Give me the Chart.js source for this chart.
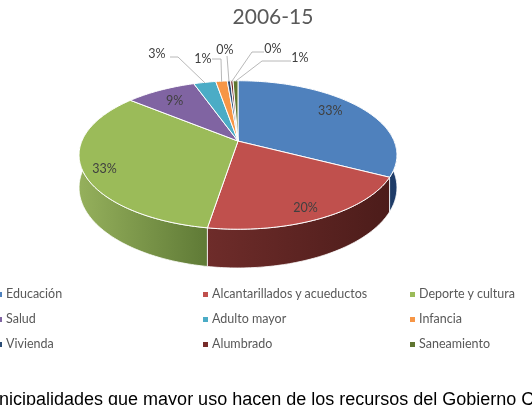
<!DOCTYPE html>
<html lang="es">
<head>
<meta charset="utf-8">
<title>2006-15</title>
<script src="https://cdn.jsdelivr.net/npm/chart.js@4"></script>
<style>
    html, body { margin: 0; padding: 0; background: #fff; }
    #page { position: relative; width: 532px; height: 405px; overflow: hidden; }
    #pie { position: absolute; left: -10px; top: 0; }
    .legend-item { position: absolute; font: 12.5px Lato, sans-serif; color: #595959; line-height: 16px; white-space: nowrap; }
    .legend-item i { position: absolute; left: -9px; top: 6px; width: 5px; height: 5px; }
    #caption { position: absolute; left: -26px; top: 389px; font: 18px "Liberation Sans", Arial, sans-serif; color: #000; white-space: nowrap; }
</style>
</head>
<body>
<div id="page">
    <canvas id="pie" width="566" height="405"></canvas>
    <div id="legend"></div>
    <div id="caption">Municipalidades que mayor uso hacen de los recursos del Gobierno Central</div>
</div>
<script>
const chartTitle = '2006-15';
const categories = ['Educación', 'Alcantarillados y acueductos', 'Deporte y cultura', 'Salud', 'Adulto mayor', 'Infancia', 'Vivienda', 'Alumbrado', 'Saneamiento'];
const shares = [32.6, 19.9, 33.4, 8.6, 2.7, 1.4, 0.4, 0.3, 0.6];
const topColors = ['#4f81bd', '#c0504d', '#9bbb59', '#8064a2', '#4bacc6', '#f79646', '#2c4d75', '#772c2a', '#5f7530'];
const wallColors = [['#1d3a63', '#1f3d6b'], ['#6e2c2a', '#4c1c1a'], ['#95b05c', '#5f7a36'], ['#4d3c62', '#4d3c62'], ['#2d6776', '#2d6776'], ['#94592a', '#94592a'], ['#1a2e46', '#1a2e46'], ['#471a19', '#471a19'], ['#39461d', '#39461d']];

// Tilt of the disc: front edge is closer to the viewer than the back edge.
// shiftX moves the disc left of the chart centre, where the title stays.
const TILT = { p: -0.187, sx: 1.447, sy: 0.664, depth: 31.5, shiftX: -35 };
const DEG = Math.PI / 180;

// Label placement per slice: inner labels sit at a fraction of the radius plus a nudge,
// outer ones sit at a pixel spot and get an elbow line back to the rim
const labelPlaces = [
    { r: 0.75, dx: -1, dy: -4 }, { r: 0.85, dx: -2, dy: 3 }, { r: 0.88, dx: 3, dy: 4 }, { r: 0.78, dx: -1, dy: 1 },
    { x: 167, y: 54, lineX: 180, lineY: 57, elbowX: 188 },
    { x: 213, y: 59, lineX: 222, lineY: 59, elbowX: 231 },
    { x: 235, y: 50, lineX: 237, lineY: 56, elbowX: 237 },
    { x: 283, y: 49, lineX: 274, lineY: 52, elbowX: 262 },
    { x: 310, y: 58, lineX: 301, lineY: 61, elbowX: 272 }
];

function project(arc, theta, r = 1) {
    const u = Math.cos(theta) * r;
    const v = Math.sin(theta) * r;
    const d = 1 + TILT.p * v;
    return {
        x: arc.x + TILT.shiftX + arc.outerRadius * TILT.sx * u / d,
        y: arc.y + arc.outerRadius * TILT.sy * v / d,
        d
    };
}

function drawWall(ctx, arc, i) {
    const from = Math.max(arc.startAngle, -10 * DEG);
    const to = Math.min(arc.endAngle, 190 * DEG);
    if (to <= from) return;
    const top = [];
    const steps = Math.max(2, Math.ceil((to - from) / DEG));
    for (let s = 0; s <= steps; s++) top.push(project(arc, from + (to - from) * s / steps));
    const xs = top.map(p => p.x);
    const grad = ctx.createLinearGradient(Math.min(...xs), 0, Math.max(...xs), 0);
    grad.addColorStop(0, wallColors[i][0]);
    grad.addColorStop(1, wallColors[i][1]);
    ctx.beginPath();
    top.forEach((p, k) => k ? ctx.lineTo(p.x, p.y) : ctx.moveTo(p.x, p.y));
    for (let k = top.length - 1; k >= 0; k--) ctx.lineTo(top[k].x, top[k].y + TILT.depth / top[k].d);
    ctx.closePath();
    ctx.fillStyle = grad;
    ctx.fill();
    ctx.strokeStyle = '#fff';
    ctx.lineWidth = 0.8;
    ctx.stroke();
}

function drawTop(ctx, arc, i) {
    ctx.beginPath();
    const centre = project(arc, 0, 0);
    ctx.moveTo(centre.x, centre.y);
    const steps = Math.max(2, Math.ceil((arc.endAngle - arc.startAngle) / DEG));
    for (let s = 0; s <= steps; s++) {
        const p = project(arc, arc.startAngle + (arc.endAngle - arc.startAngle) * s / steps);
        ctx.lineTo(p.x, p.y);
    }
    ctx.closePath();
    ctx.fillStyle = topColors[i];
    ctx.fill();
    ctx.strokeStyle = '#fff';
    ctx.lineWidth = 1;
    ctx.stroke();
}

function drawLabels(ctx, arcs) {
    const total = shares.reduce((a, b) => a + b, 0);
    ctx.font = '12.5px Lato, sans-serif';
    ctx.textAlign = 'center';
    ctx.textBaseline = 'middle';
    arcs.forEach((arc, i) => {
        const text = Math.round(shares[i] / total * 100) + '%';
        const place = labelPlaces[i];
        const mid = (arc.startAngle + arc.endAngle) / 2;
        if (place.r) {
            const p = project(arc, mid, place.r);
            ctx.fillStyle = '#404040';
            ctx.fillText(text, p.x + place.dx, p.y + place.dy);
            return;
        }
        const rim = project(arc, mid, 0.99);
        ctx.beginPath();
        ctx.moveTo(place.lineX, place.lineY);
        ctx.lineTo(place.elbowX, place.lineY);
        ctx.lineTo(rim.x, rim.y);
        ctx.strokeStyle = '#a6a6a6';
        ctx.lineWidth = 0.8;
        ctx.stroke();
        ctx.fillStyle = '#404040';
        ctx.fillText(text, place.x, place.y);
    });
}

// Replaces the flat arcs with the tilted disc, using the angles the library laid out
const tiltedPie = {
    id: 'tiltedPie',
    beforeDatasetsDraw(chart) {
        const ctx = chart.ctx;
        const arcs = chart.getDatasetMeta(0).data;
        ctx.save();
        arcs.slice().reverse().forEach((arc, k) => drawWall(ctx, arc, arcs.length - 1 - k));
        arcs.forEach((arc, i) => drawTop(ctx, arc, i));
        drawLabels(ctx, arcs);
        ctx.restore();
        return false;
    }
};

new Chart(document.getElementById('pie'), {
    type: 'pie',
    data: {
        labels: categories,
        datasets: [{ data: shares, backgroundColor: topColors, borderColor: '#fff' }]
    },
    options: {
        responsive: false,
        animation: false,
        layout: { padding: { bottom: 155 } },
        plugins: {
            legend: { display: false },
            tooltip: { enabled: false },
            title: {
                display: true,
                text: chartTitle,
                color: '#595959',
                font: { family: 'Lato', size: 21, weight: 'normal' },
                padding: { top: 5, bottom: 2 }
            }
        }
    },
    plugins: [tiltedPie]
});

// Three-column legend, filled row by row
const legendColumns = [6, 212, 419];
const legendRows = [286, 311, 336];
const legend = document.getElementById('legend');
categories.forEach((name, i) => {
    const item = document.createElement('div');
    item.className = 'legend-item';
    item.style.left = legendColumns[i % 3] + 'px';
    item.style.top = legendRows[Math.floor(i / 3)] + 'px';
    item.innerHTML = '<i style="background:' + topColors[i] + '"></i>' + name;
    legend.appendChild(item);
});
</script>
</body>
</html>
